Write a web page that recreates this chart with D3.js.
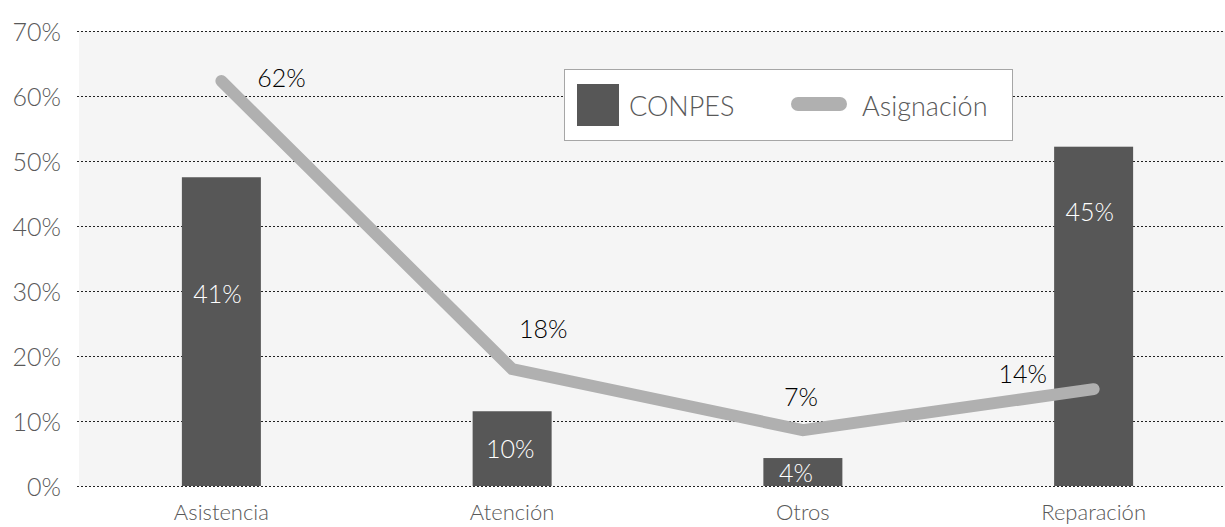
<!DOCTYPE html>
<html>
<head>
<meta charset="utf-8">
<script src="https://cdn.jsdelivr.net/npm/d3@7"></script>
<style>
	body { margin: 0; background: #fff; }
	svg { display: block; font-family: 'Lato', 'Open Sans', sans-serif; font-weight: 300; }
</style>
</head>
<body>
<svg id="chart"></svg>
<script>

var w = 1225;
var h = 527;

// data
var categories = ['Asistencia', 'Atención', 'Otros', 'Reparación'];
var conpes = [0.475, 0.115, 0.043, 0.522];
var conpes_labels = ['41%', '10%', '4%', '45%'];
var asignacion = [0.623, 0.18, 0.086, 0.149];
var asignacion_labels = ['62%', '18%', '7%', '14%'];
var y_ticks = [0, 0.1, 0.2, 0.3, 0.4, 0.5, 0.6, 0.7];

var bar_color = '#575757';
var line_color = '#b0b0b0';
var text_gray = '#595959';

var svg = d3.select('#chart')
	.attr('width', w)
	.attr('height', h);

var x = d3.scalePoint()
	.domain(categories)
	.range([76, 1239])
	.padding(0.5);

var y = d3.scaleLinear()
	.domain([0, 0.7])
	.range([486, 31]);

var bar_w = 79;

// plot background
svg.append('rect')
	.attr('x', 79)
	.attr('y', y(0.7))
	.attr('width', w - 79)
	.attr('height', y(0) - y(0.7))
	.attr('fill', '#f5f5f5');

// gridlines + y labels
svg.selectAll('.grid')
	.data(y_ticks)
	.enter()
	.append('line')
	.attr('class', 'grid')
	.attr('x1', 77)
	.attr('x2', w)
	.attr('y1', d => Math.round(y(d)) + 0.5)
	.attr('y2', d => Math.round(y(d)) + 0.5)
	.style('stroke', '#222')
	.style('stroke-width', 1)
	.style('stroke-dasharray', '2,2');

svg.selectAll('.ylab')
	.data(y_ticks)
	.enter()
	.append('text')
	.attr('class', 'ylab')
	.attr('x', 61)
	.attr('y', d => y(d))
	.attr('text-anchor', 'end')
	.attr('dominant-baseline', 'central')
	.style('font-size', '25px')
	.style('fill', text_gray)
	.text(d => d3.format('.0%')(d));

// x labels
svg.selectAll('.xlab')
	.data(categories)
	.enter()
	.append('text')
	.attr('class', 'xlab')
	.attr('x', d => x(d))
	.attr('y', 520)
	.attr('text-anchor', 'middle')
	.style('font-size', '22px')
	.style('fill', text_gray)
	.text(d => d);

// bars
svg.selectAll('.bar')
	.data(conpes)
	.enter()
	.append('rect')
	.attr('class', 'bar')
	.attr('x', (d, i) => x(categories[i]) - bar_w / 2)
	.attr('y', d => y(d))
	.attr('width', bar_w)
	.attr('height', d => y(0) - y(d))
	.attr('fill', bar_color);

// bar label offsets from bar top (as in the original, not centred)
var bar_lab_off = [[-4, 116], [-2, 37], [-7, 14], [-4, 64]];

svg.selectAll('.barlab')
	.data(conpes)
	.enter()
	.append('text')
	.attr('class', 'barlab')
	.attr('x', (d, i) => x(categories[i]) + bar_lab_off[i][0])
	.attr('y', (d, i) => y(d) + bar_lab_off[i][1])
	.attr('text-anchor', 'middle')
	.attr('dominant-baseline', 'central')
	.style('font-size', '25px')
	.style('fill', '#fff')
	.text((d, i) => conpes_labels[i]);

// line
var line = d3.line()
	.x((d, i) => x(categories[i]))
	.y(d => y(d));

svg.append('path')
	.datum(asignacion)
	.attr('d', line)
	.attr('fill', 'none')
	.style('stroke', line_color)
	.style('stroke-width', 12)
	.style('stroke-linecap', 'round')
	.style('stroke-linejoin', 'miter');

var line_lab_off = [[60, -4], [31, -41], [-2, -34], [-71, -16]];

svg.selectAll('.linelab')
	.data(asignacion)
	.enter()
	.append('text')
	.attr('class', 'linelab')
	.attr('x', (d, i) => x(categories[i]) + line_lab_off[i][0])
	.attr('y', (d, i) => y(d) + line_lab_off[i][1])
	.attr('text-anchor', 'middle')
	.attr('dominant-baseline', 'central')
	.style('font-size', '25px')
	.style('fill', '#000')
	.text((d, i) => asignacion_labels[i]);

// legend
var legend = svg.append('g').attr('transform', 'translate(564,69)');

legend.append('rect')
	.attr('x', 0.5)
	.attr('y', 0.5)
	.attr('width', 448)
	.attr('height', 71)
	.attr('fill', '#fff')
	.style('stroke', '#a6a6a6')
	.style('stroke-width', 1);

legend.append('rect')
	.attr('x', 13)
	.attr('y', 15)
	.attr('width', 42)
	.attr('height', 42)
	.attr('fill', bar_color);

legend.append('text')
	.attr('x', 65)
	.attr('y', 36)
	.attr('dominant-baseline', 'central')
	.style('font-size', '27px')
	.style('fill', text_gray)
	.text('CONPES');

legend.append('line')
	.attr('x1', 234)
	.attr('x2', 276)
	.attr('y1', 35)
	.attr('y2', 35)
	.style('stroke', line_color)
	.style('stroke-width', 14)
	.style('stroke-linecap', 'round');

legend.append('text')
	.attr('x', 298)
	.attr('y', 36)
	.attr('dominant-baseline', 'central')
	.style('font-size', '27px')
	.style('fill', text_gray)
	.text('Asignación');

</script>
</body>
</html>
